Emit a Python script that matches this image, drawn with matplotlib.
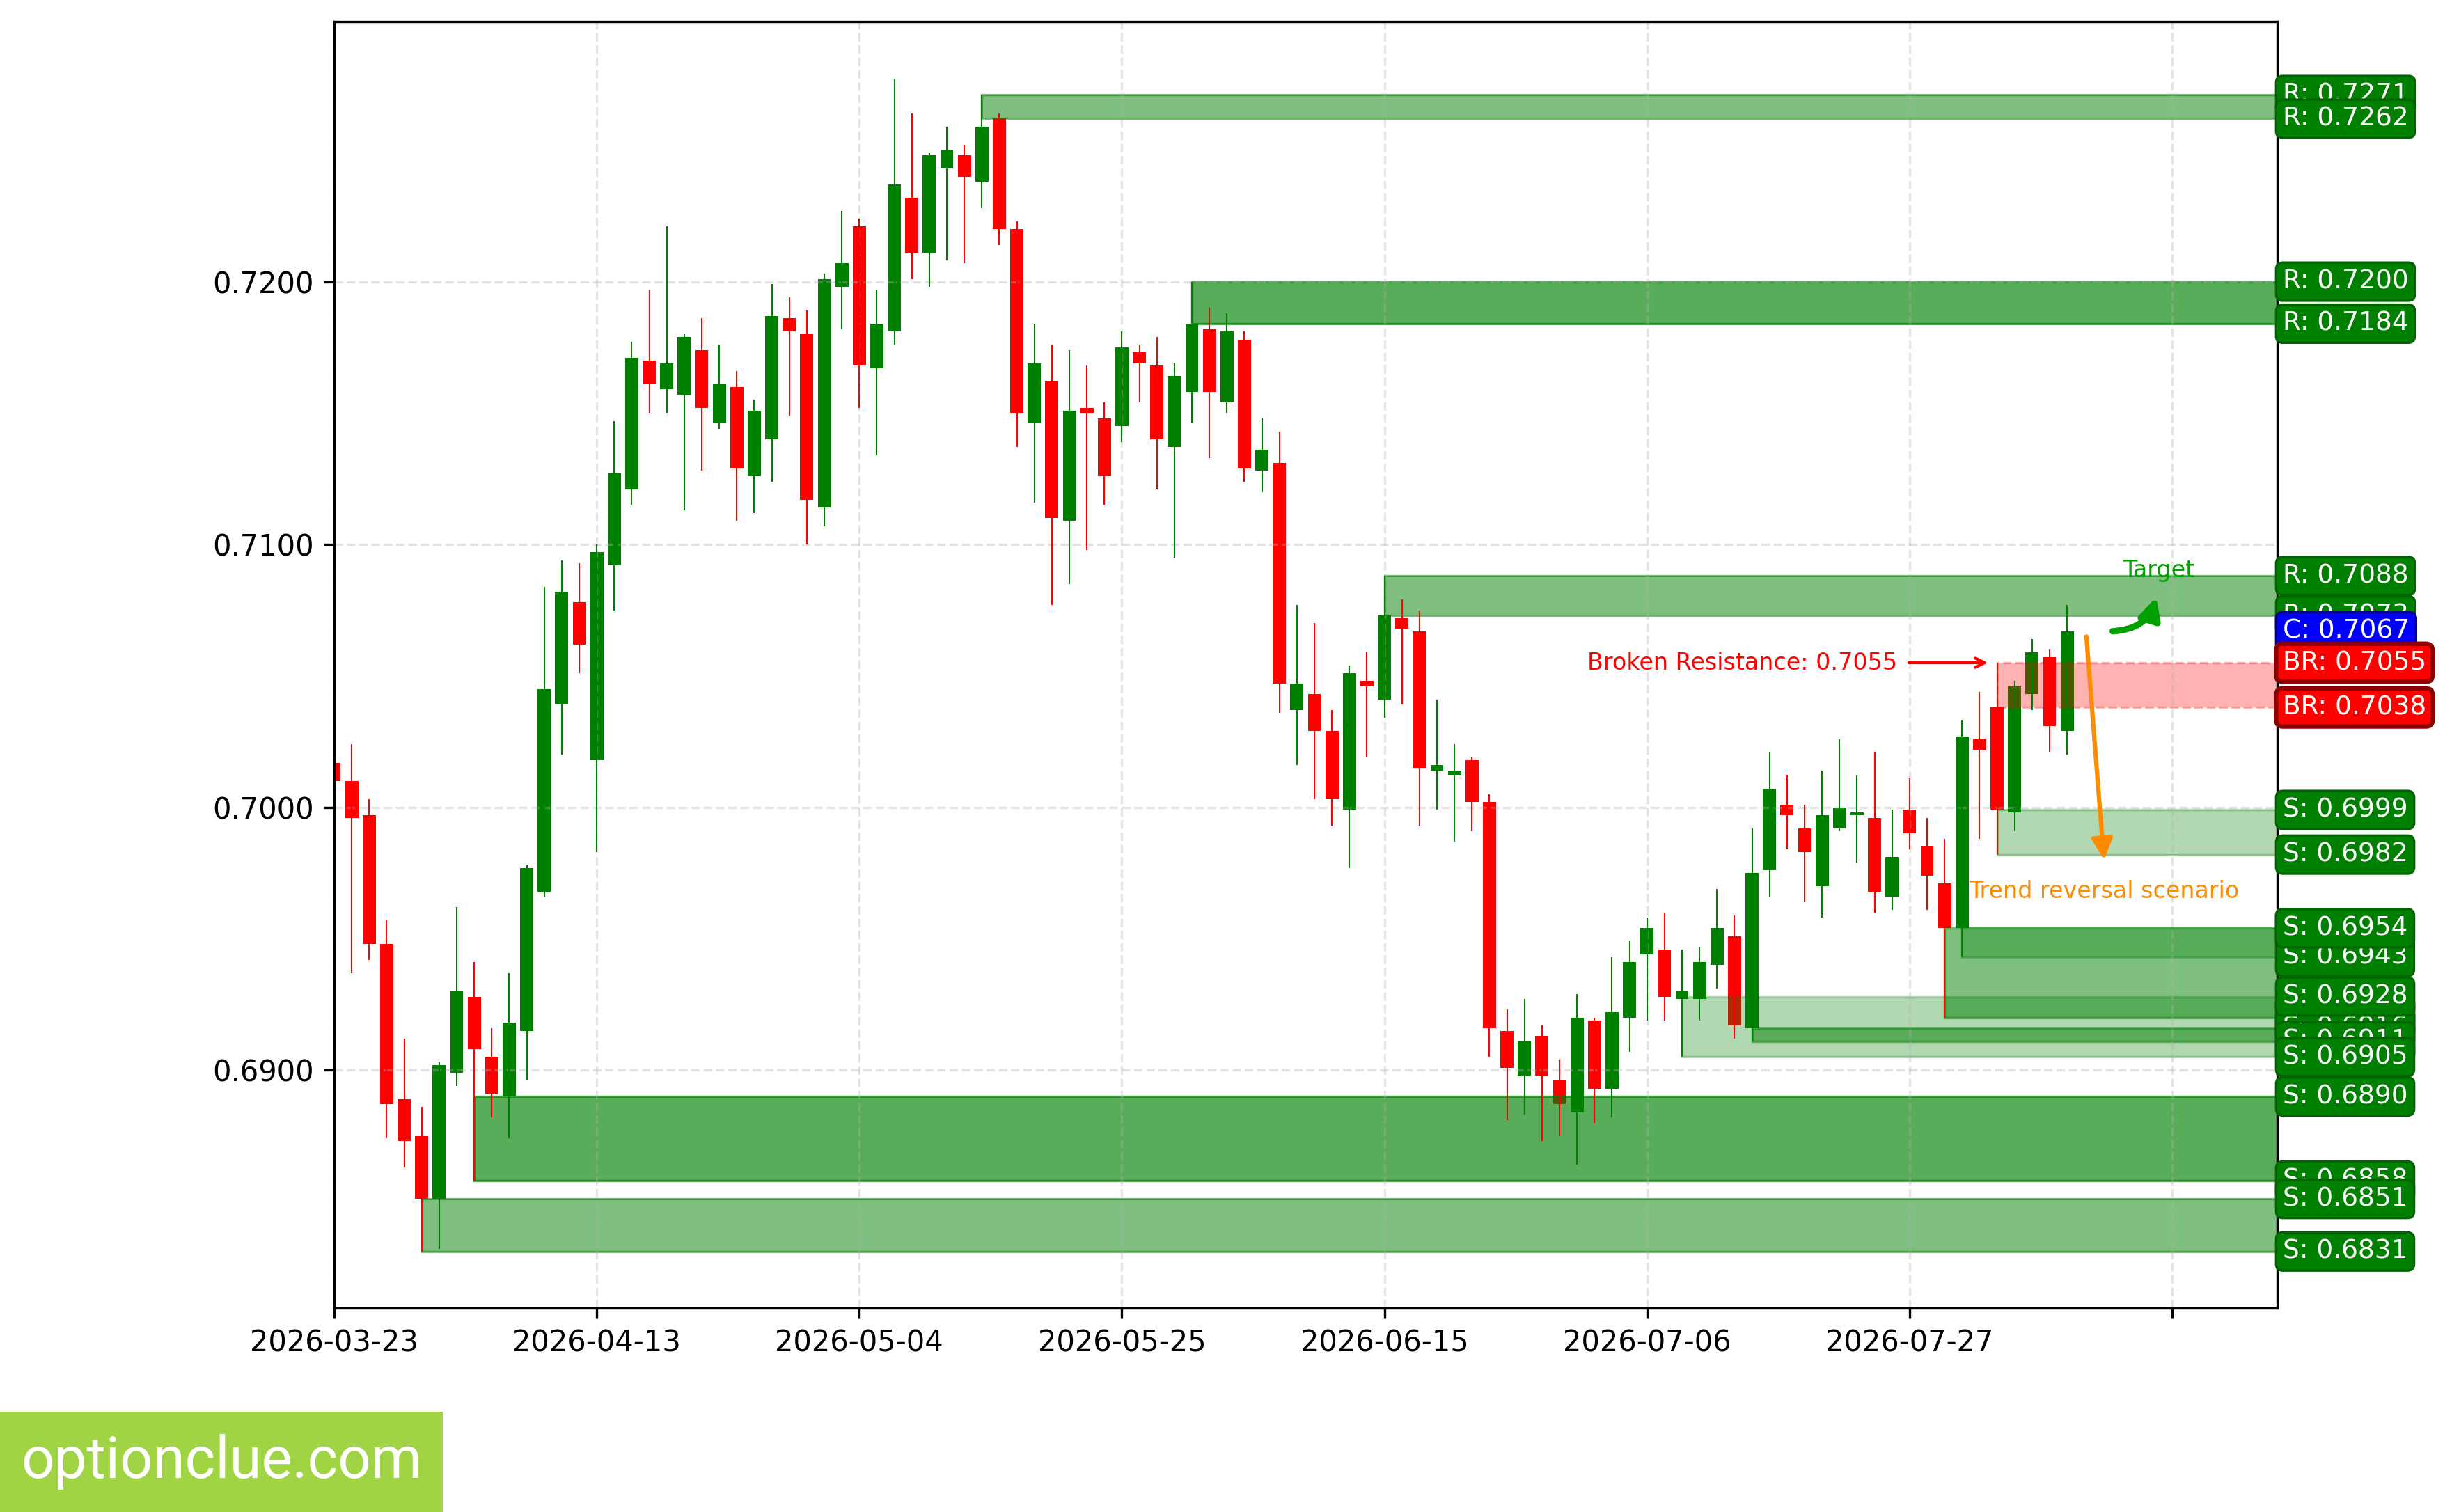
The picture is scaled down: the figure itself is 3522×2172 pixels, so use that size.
import matplotlib
matplotlib.use('Agg')
import matplotlib.pyplot as plt
from matplotlib.patches import Rectangle
from matplotlib.ticker import MultipleLocator, FuncFormatter, FormatStrFormatter
import pandas as pd

# daily candles (trading days only)
dates = pd.bdate_range('2026-03-23', periods=100)

opens = [0.7017, 0.7010, 0.6997, 0.6948, 0.6889, 0.6875, 0.6851, 0.6899, 0.6928, 0.6905,
         0.6890, 0.6915, 0.6968, 0.7039, 0.7078, 0.7018, 0.7092, 0.7121, 0.7170, 0.7159,
         0.7157, 0.7174, 0.7146, 0.7160, 0.7126, 0.7140, 0.7186, 0.7180, 0.7114, 0.7198,
         0.7221, 0.7167, 0.7181, 0.7232, 0.7211, 0.7243, 0.7248, 0.7238, 0.7262, 0.7220,
         0.7146, 0.7162, 0.7109, 0.7152, 0.7148, 0.7145, 0.7173, 0.7168, 0.7137, 0.7158,
         0.7182, 0.7154, 0.7178, 0.7128, 0.7131, 0.7037, 0.7043, 0.7029, 0.6999, 0.7048,
         0.7041, 0.7072, 0.7067, 0.7014, 0.7012, 0.7018, 0.7002, 0.6915, 0.6898, 0.6913,
         0.6896, 0.6884, 0.6919, 0.6893, 0.6920, 0.6944, 0.6946, 0.6927, 0.6927, 0.6940,
         0.6951, 0.6916, 0.6976, 0.7001, 0.6992, 0.6970, 0.6992, 0.6997, 0.6996, 0.6966,
         0.6999, 0.6985, 0.6971, 0.6954, 0.7026, 0.7038, 0.6998, 0.7043, 0.7057, 0.7029]
highs = [0.7019, 0.7024, 0.7003, 0.6957, 0.6912, 0.6886, 0.6903, 0.6962, 0.6941, 0.6916,
         0.6937, 0.6978, 0.7084, 0.7094, 0.7093, 0.7100, 0.7147, 0.7177, 0.7197, 0.7221,
         0.7180, 0.7186, 0.7176, 0.7166, 0.7155, 0.7199, 0.7194, 0.7189, 0.7203, 0.7227,
         0.7224, 0.7197, 0.7277, 0.7264, 0.7249, 0.7259, 0.7252, 0.7271, 0.7264, 0.7223,
         0.7184, 0.7176, 0.7174, 0.7168, 0.7154, 0.7181, 0.7176, 0.7179, 0.7169, 0.7200,
         0.7190, 0.7188, 0.7181, 0.7148, 0.7143, 0.7077, 0.7070, 0.7037, 0.7054, 0.7059,
         0.7088, 0.7079, 0.7075, 0.7041, 0.7024, 0.7019, 0.7005, 0.6923, 0.6927, 0.6917,
         0.6904, 0.6929, 0.6920, 0.6943, 0.6949, 0.6958, 0.6960, 0.6946, 0.6947, 0.6969,
         0.6959, 0.6992, 0.7021, 0.7012, 0.7001, 0.7014, 0.7026, 0.7012, 0.7021, 0.6999,
         0.7011, 0.6996, 0.6988, 0.7033, 0.7044, 0.7055, 0.7048, 0.7064, 0.7060, 0.7077]
lows = [0.7009, 0.6937, 0.6942, 0.6874, 0.6863, 0.6831, 0.6832, 0.6894, 0.6858, 0.6882,
        0.6874, 0.6896, 0.6966, 0.7020, 0.7051, 0.6983, 0.7075, 0.7115, 0.7150, 0.7150,
        0.7113, 0.7128, 0.7144, 0.7109, 0.7112, 0.7124, 0.7149, 0.7100, 0.7107, 0.7182,
        0.7152, 0.7134, 0.7176, 0.7201, 0.7198, 0.7208, 0.7207, 0.7228, 0.7214, 0.7137,
        0.7116, 0.7077, 0.7085, 0.7098, 0.7115, 0.7139, 0.7154, 0.7121, 0.7095, 0.7146,
        0.7133, 0.7150, 0.7124, 0.7120, 0.7036, 0.7016, 0.7003, 0.6993, 0.6977, 0.7019,
        0.7034, 0.7039, 0.6993, 0.6999, 0.6987, 0.6991, 0.6905, 0.6881, 0.6883, 0.6873,
        0.6875, 0.6864, 0.6880, 0.6882, 0.6907, 0.6919, 0.6919, 0.6905, 0.6919, 0.6931,
        0.6912, 0.6911, 0.6966, 0.6984, 0.6964, 0.6958, 0.6991, 0.6979, 0.6960, 0.6961,
        0.6984, 0.6961, 0.6920, 0.6943, 0.6988, 0.6982, 0.6991, 0.7037, 0.7021, 0.7020]
closes = [0.7010, 0.6996, 0.6948, 0.6887, 0.6873, 0.6851, 0.6902, 0.6930, 0.6908, 0.6891,
          0.6918, 0.6977, 0.7045, 0.7082, 0.7062, 0.7097, 0.7127, 0.7171, 0.7161, 0.7169,
          0.7179, 0.7152, 0.7161, 0.7129, 0.7151, 0.7187, 0.7181, 0.7117, 0.7201, 0.7207,
          0.7168, 0.7184, 0.7237, 0.7211, 0.7248, 0.7250, 0.7240, 0.7259, 0.7220, 0.7150,
          0.7169, 0.7110, 0.7151, 0.7150, 0.7126, 0.7175, 0.7169, 0.7140, 0.7164, 0.7184,
          0.7158, 0.7181, 0.7129, 0.7136, 0.7047, 0.7047, 0.7029, 0.7003, 0.7051, 0.7046,
          0.7073, 0.7068, 0.7015, 0.7016, 0.7014, 0.7002, 0.6916, 0.6901, 0.6911, 0.6898,
          0.6887, 0.6920, 0.6893, 0.6922, 0.6941, 0.6954, 0.6928, 0.6930, 0.6941, 0.6954,
          0.6917, 0.6975, 0.7007, 0.6997, 0.6983, 0.6997, 0.7000, 0.6998, 0.6968, 0.6981,
          0.6990, 0.6974, 0.6954, 0.7027, 0.7022, 0.6999, 0.7046, 0.7059, 0.7031, 0.7067]

# zones: start candle, low, high, opacity
res_start = [37, 49, 60]
res_low = [0.7262, 0.7184, 0.7073]
res_high = [0.7271, 0.7200, 0.7088]
res_alpha = [0.5, 0.65, 0.5]

br_start = [95]
br_low = [0.7038]
br_high = [0.7055]

sup_start = [95, 93, 92, 81, 77, 8, 5]
sup_low = [0.6982, 0.6943, 0.6920, 0.6911, 0.6905, 0.6858, 0.6831]
sup_high = [0.6999, 0.6954, 0.6954, 0.6916, 0.6928, 0.6890, 0.6851]
sup_alpha = [0.3, 0.3, 0.5, 0.5, 0.3, 0.65, 0.5]

XMAX = 111.0

fig = plt.figure(figsize=(3522 / 300, 2172 / 300), dpi=300)
ax = fig.add_axes([0.1363, 0.1349, 0.7924, 0.8506])

x = list(range(len(closes)))
cols = ['green' if c >= o else 'red' for o, c in zip(opens, closes)]
bottoms = [min(o, c) for o, c in zip(opens, closes)]
heights = [abs(c - o) for o, c in zip(opens, closes)]
ax.bar(x, heights, bottom=bottoms, width=0.75, color=cols, linewidth=0)
ax.vlines(x, lows, highs, colors=cols, linewidth=0.5)

def zone(start, lo, hi, color, a, ls='-'):
    ax.add_patch(Rectangle((start, lo), XMAX - start, hi - lo, facecolor=color,
                           edgecolor=color, alpha=a, linewidth=0.8, linestyle=ls))

for s, lo, hi, a in zip(res_start, res_low, res_high, res_alpha):
    zone(s, lo, hi, 'green', a)
for s, lo, hi in zip(br_start, br_low, br_high):
    zone(s, lo, hi, 'red', 0.3, '--')
for s, lo, hi, a in zip(sup_start, sup_low, sup_high, sup_alpha):
    zone(s, lo, hi, 'green', a)

trans = ax.get_yaxis_transform()

def tag(price, txt, fc, ec, lw=0.8):
    ax.text(1.0028, price, txt, transform=trans, ha='left', va='center', fontsize=9,
            color='white', clip_on=False,
            bbox=dict(boxstyle='round,pad=0.25', facecolor=fc, edgecolor=ec, linewidth=lw))

for lo, hi in zip(res_low, res_high):
    tag(hi, f'R: {hi:.4f}', 'green', 'darkgreen')
    tag(lo, f'R: {lo:.4f}', 'green', 'darkgreen')
tag(closes[-1], f'C: {closes[-1]:.4f}', 'blue', 'darkblue')
for lo, hi in zip(br_low, br_high):
    tag(hi, f'BR: {hi:.4f}', 'red', 'darkred', 1.5)
    tag(lo, f'BR: {lo:.4f}', 'red', 'darkred', 1.5)
for lo, hi in zip(sup_low, sup_high):
    tag(hi, f'S: {hi:.4f}', 'green', 'darkgreen')
    tag(lo, f'S: {lo:.4f}', 'green', 'darkgreen')

# annotations
ax.annotate(f'Broken Resistance: {br_high[0]:.4f}', xy=(94.8, br_high[0]), xytext=(89.3, br_high[0]),
            color='red', fontsize=8, ha='right', va='center',
            arrowprops=dict(arrowstyle='->', color='red', lw=1.0))
ax.annotate('', xy=(104.1, 0.7080), xytext=(101.6, 0.7067),
            arrowprops=dict(arrowstyle='-|>', color='#00a000', lw=2.2, mutation_scale=15,
                            connectionstyle='arc3,rad=0.35', shrinkA=0, shrinkB=0))
ax.text(104.25, 0.7090, 'Target', color='#00a000', fontsize=8, ha='center', va='center')
ax.annotate('', xy=(101.1, 0.6980), xytext=(100.1, 0.7065),
            arrowprops=dict(arrowstyle='-|>', color='darkorange', lw=1.5, mutation_scale=15,
                            shrinkA=0, shrinkB=0))
ax.text(93.4, 0.6968, 'Trend reversal scenario', color='darkorange', fontsize=8,
        ha='left', va='center')

ax.set_xlim(0, XMAX)
ax.set_ylim(0.68095, 0.72988)
ax.xaxis.set_major_locator(MultipleLocator(15))
ax.xaxis.set_major_formatter(FuncFormatter(
    lambda v, p: dates[int(round(v))].strftime('%Y-%m-%d') if 0 <= int(round(v)) < len(dates) else ''))
ax.yaxis.set_major_locator(MultipleLocator(0.01))
ax.yaxis.set_major_formatter(FormatStrFormatter('%.4f'))
ax.tick_params(labelsize=10)
ax.grid(True, linestyle='--', alpha=0.35)

# watermark
fig.patches.append(Rectangle((0, 0), 636 / 3522, 144 / 2172, transform=fig.transFigure,
                             facecolor='#a0d445', edgecolor='none'))
fig.text(318 / 3522, 1 - 2100 / 2172, 'optionclue.com', fontsize=20, color='white',
         family='Roboto', ha='center', va='center')

fig.savefig('out.png', dpi=300)
